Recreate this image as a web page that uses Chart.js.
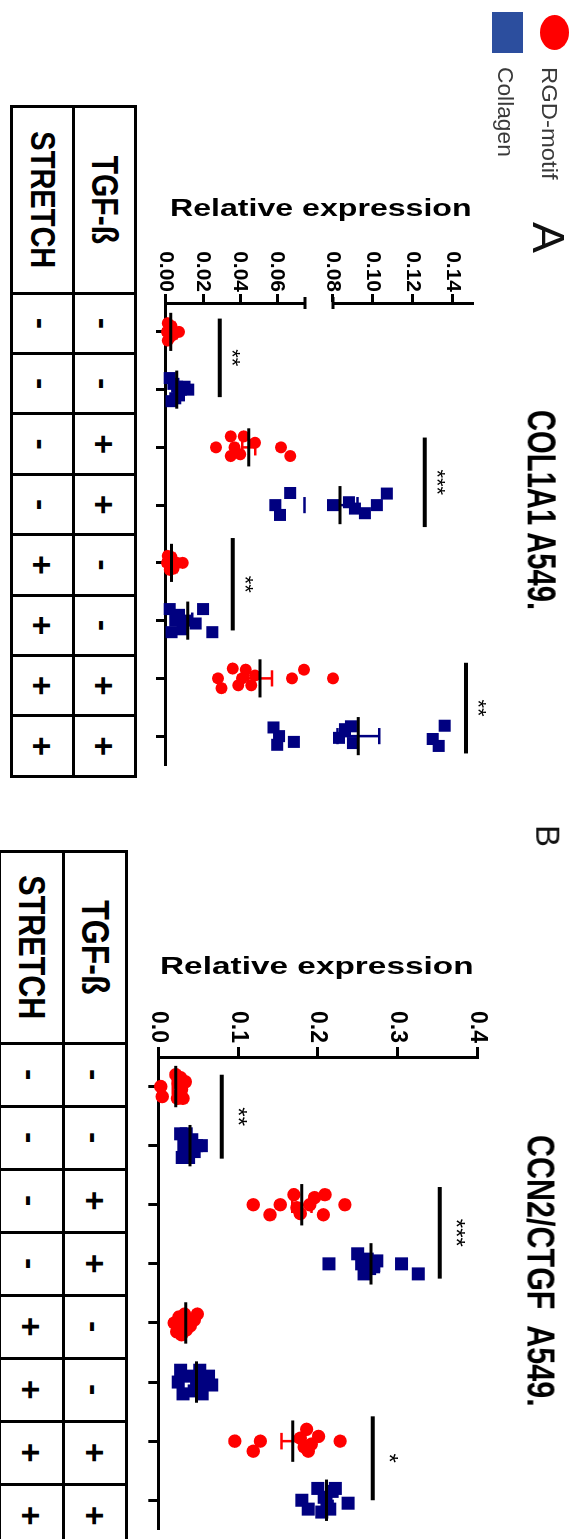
<!DOCTYPE html>
<html lang="en">
<head>
<meta charset="utf-8">
<title>COL1A1 and CCN2/CTGF relative expression in A549 cells</title>
<script src="https://cdn.jsdelivr.net/npm/chart.js@4.4.1/dist/chart.umd.min.js"></script>
<style>
  html, body { margin: 0; padding: 0; background: #fff; }
  body { position: relative; width: 580px; height: 1539px; overflow: hidden;
         font-family: "Liberation Sans", Arial, Helvetica, sans-serif; color: #000; }
  /* the figure is laid out landscape and turned a quarter turn clockwise */
  #fig { position: absolute; left: 0; top: 0; width: 1539px; height: 580px;
         transform-origin: 0 0; transform: translate(580px, 0) rotate(90deg); }
  #fig canvas { position: absolute; top: 0; }
  .txt { position: absolute; white-space: pre; line-height: 1; }
  .mark { position: absolute; }
  table.cond { position: absolute; border-collapse: collapse; table-layout: fixed; }
  table.cond td { border: 3px solid #000; padding: 0; text-align: center; vertical-align: middle;
                  font-weight: bold; line-height: 1; overflow: hidden; white-space: nowrap; }
  table.cond td span { display: inline-block; }
</style>
</head>
<body>
<div id="fig">
  <canvas id="chartA" width="800" height="440" style="left:0"></canvas>
  <canvas id="chartB" width="739" height="445" style="left:800px"></canvas>
</div>
<script>
// ---- conditions (one column per group) ----
const tgfBeta = ['-', '-', '+', '+', '-', '-', '+', '+'];
const stretch = ['-', '-', '-', '-', '+', '+', '+', '+'];
const seriesNames = ['RGD-motif', 'Collagen'];
const coating = ['RGD-motif', 'Collagen', 'RGD-motif', 'Collagen', 'RGD-motif', 'Collagen', 'RGD-motif', 'Collagen'];

// ---- COL1A1, A549 ----
const col1a1Points = [
  [0.0005, 0.001, 0.001, 0.002, 0.002, 0.003, 0.004, 0.007],
  [0.002, 0.003, 0.004, 0.005, 0.006, 0.007, 0.008, 0.010, 0.012],
  [0.027, 0.035, 0.035, 0.037, 0.040, 0.042, 0.048, 0.062, 0.067],
  [0.059, 0.0615, 0.067, 0.080, 0.088, 0.091, 0.096, 0.102, 0.107],
  [0.0005, 0.001, 0.002, 0.003, 0.003, 0.004, 0.006, 0.009],
  [0.002, 0.003, 0.005, 0.007, 0.009, 0.011, 0.016, 0.020, 0.025],
  [0.028, 0.030, 0.036, 0.039, 0.041, 0.043, 0.046, 0.048, 0.068, 0.0745, 0.080],
  [0.058, 0.060, 0.061, 0.069, 0.083, 0.086, 0.089, 0.090, 0.130, 0.133, 0.136]
];
const col1a1Spread = [
  [0, -0.15, 0.15, -0.05, 0.1, -0.1, 0.05, 0],
  [-0.2, 0.2, -0.1, 0.15, -0.05, 0.1, 0, -0.05, 0],
  [0, 0.15, -0.19, 0, 0.12, -0.19, -0.08, 0, 0.15],
  [0, 0.17, -0.21, 0, -0.05, 0.06, 0.14, 0, -0.2],
  [0, -0.12, 0.12, 0, -0.1, 0.1, 0, 0],
  [-0.2, 0.2, 0, -0.1, 0.15, 0, 0.05, -0.2, 0.2],
  [0, 0.17, -0.17, 0.12, 0, -0.15, 0.12, -0.05, 0, -0.15, 0],
  [-0.15, 0.15, 0, 0.1, 0.03, -0.12, -0.17, 0.12, 0.05, 0.17, -0.18]
];
const col1a1Mean = [0.0025, 0.0058, 0.0447, 0.0835, 0.003, 0.0117, 0.0507, 0.0927];
const col1a1Sem = [0.001, 0.0012, 0.0035, 0.0088, 0.001, 0.0025, 0.0065, 0.0105];
// [from group, to group, level, label]
const col1a1Sig = [[-0.23, 1.13, 0.029, '**'], [1.83, 3.38, 0.126, '***'], [3.57, 5.17, 0.036, '**'], [5.73, 7.30, 0.1467, '**']];
const col1a1Break = [0.075, 0.08];
const col1a1TicksLow = [0, 0.02, 0.04, 0.06];
const col1a1TicksHigh = [0.08, 0.10, 0.12, 0.14];

// ---- CCN2/CTGF, A549 ----
const ctgfPoints = [
  [0.003, 0.005, 0.022, 0.024, 0.025, 0.027, 0.028, 0.029, 0.031, 0.034],
  [0.028, 0.030, 0.032, 0.035, 0.038, 0.040, 0.042, 0.045, 0.048, 0.054],
  [0.119, 0.140, 0.153, 0.170, 0.174, 0.178, 0.190, 0.196, 0.207, 0.209, 0.234],
  [0.214, 0.250, 0.255, 0.258, 0.262, 0.265, 0.270, 0.274, 0.305, 0.326],
  [0.020, 0.023, 0.026, 0.029, 0.031, 0.033, 0.035, 0.037, 0.040, 0.045, 0.049],
  [0.025, 0.028, 0.031, 0.040, 0.045, 0.048, 0.052, 0.055, 0.058, 0.063, 0.067],
  [0.096, 0.119, 0.128, 0.178, 0.183, 0.186, 0.188, 0.192, 0.201, 0.228],
  [0.180, 0.188, 0.200, 0.205, 0.208, 0.212, 0.215, 0.218, 0.222, 0.238]
];
const ctgfSpread = [
  [0, 0.17, -0.2, 0.2, -0.05, 0.12, -0.15, 0.05, 0.2, -0.08],
  [-0.2, 0.2, 0, -0.2, 0.2, 0, -0.1, 0.1, 0, 0],
  [0, 0.17, 0, -0.17, 0.05, 0.15, 0, -0.12, 0.17, -0.17, 0],
  [0, -0.17, 0, 0.17, -0.08, 0.08, 0.05, -0.05, 0, 0.17],
  [0, 0.15, -0.1, 0.2, 0, -0.15, 0.12, 0, 0.05, -0.05, -0.15],
  [0, -0.2, 0.2, -0.1, 0.15, 0, -0.2, 0.2, 0, -0.1, 0.05],
  [0, 0.17, 0, -0.05, 0.1, -0.2, 0.17, 0.05, -0.08, 0],
  [0, 0.15, -0.2, 0.2, -0.05, 0.1, 0.15, -0.15, -0.2, 0.05]
];
const ctgfMean = [0.022, 0.0397, 0.180, 0.2667, 0.0343, 0.048, 0.1685, 0.211];
const ctgfSem = [0.004, 0.003, 0.012, 0.010, 0.003, 0.004, 0.014, 0.006];
const ctgfSig = [[-0.2, 1.22, 0.0795, '**'], [1.7, 3.25, 0.353, '***'], [5.58, 7.0, 0.2688, '*']];
const ctgfTicks = [0, 0.1, 0.2, 0.3, 0.4];

// ---- drawing ----
const FONT = '"Liberation Sans", Arial, Helvetica, sans-serif';
const SERIES_COLORS = ['#ff0000', '#000080'];
const SERIES_SHAPES = ['circle', 'rect'];
Chart.defaults.font.family = FONT;
Chart.defaults.color = '#000';

const fig = document.getElementById('fig');

function axisOf(v, brk) { return !brk ? 'y' : (v >= brk[1] ? 'yHigh' : 'yLow'); }

// store a straight segment on the value axis that holds it (split across the break if needed)
function addSeg(store, brk, x1, y1, x2, y2) {
  const put = (ax, a, b, c, d) => {
    (store[ax] = store[ax] || []).push({x: a, y: b}, {x: c, y: d}, {x: c, y: null});
  };
  if (!brk) { put('y', x1, y1, x2, y2); return; }
  if (y1 === y2) {
    if (y1 <= brk[0]) put('yLow', x1, y1, x2, y2);
    else if (y1 >= brk[1]) put('yHigh', x1, y1, x2, y2);
    return;
  }
  const lo = Math.min(y1, y2), hi = Math.max(y1, y2);
  if (lo < brk[0]) put('yLow', x1, lo, x2, Math.min(hi, brk[0]));
  if (hi > brk[1]) put('yHigh', x1, Math.max(lo, brk[1]), x2, hi);
}

function xAxis(height) {
  return {
    type: 'linear', position: 'bottom', min: -0.5, max: tgfBeta.length - 0.5,
    afterBuildTicks: s => { s.ticks = tgfBeta.map((_, i) => ({value: i})); },
    afterFit: s => { s.height = height; },
    ticks: {display: false, autoSkip: false},
    grid: {display: true, drawOnChartArea: false, drawTicks: true, tickLength: 10, tickWidth: 3, tickColor: '#000'},
    border: {display: true, color: '#000', width: 3}
  };
}

function yAxis(o) {
  const cfg = {
    type: 'linear', position: 'left', min: o.min, max: o.max, weight: o.weight || 0,
    afterBuildTicks: s => { s.ticks = o.ticks.map(v => ({value: v})); },
    afterFit: s => { s.width = o.width; },
    ticks: {display: true, autoSkip: false, color: '#000', padding: o.pad,
            font: {family: FONT, size: o.size, weight: 'bold'},
            callback: v => Number(v).toFixed(o.digits)},
    grid: {display: true, drawOnChartArea: false, drawTicks: true, tickLength: o.tick, tickWidth: 3, tickColor: '#000'},
    border: {display: true, color: '#000', width: 3}
  };
  if (o.stack) { cfg.stack = o.stack; cfg.stackWeight = o.stackWeight; }
  return cfg;
}

function annotations(sig, brk, starSize, starGap) {
  return {
    id: 'annotations',
    afterDatasetsDraw(chart) {
      const ctx = chart.ctx;
      const xs = chart.scales.x;
      ctx.save();
      if (brk) {
        // end caps on both sides of the axis break
        const ax = chart.chartArea.left;
        ctx.strokeStyle = '#000';
        ctx.lineWidth = 3;
        [['yLow', brk[0]], ['yHigh', brk[1]]].forEach(([id, v]) => {
          const y = chart.scales[id].getPixelForValue(v);
          ctx.beginPath(); ctx.moveTo(ax - 6, y); ctx.lineTo(ax + 6, y); ctx.stroke();
        });
      }
      ctx.fillStyle = '#000';
      ctx.font = `${starSize}px ${FONT}`;
      ctx.textAlign = 'center';
      ctx.textBaseline = 'alphabetic';
      sig.forEach(([a, b, v, label]) => {
        const x = xs.getPixelForValue((a + b) / 2);
        const cy = chart.scales[axisOf(v, brk)].getPixelForValue(v) - starGap;
        const m = ctx.measureText(label);
        ctx.fillText(label, x, cy + (m.actualBoundingBoxAscent - m.actualBoundingBoxDescent) / 2);
      });
      ctx.restore();
    }
  };
}

function buildPanel(canvasId, p) {
  const meanStore = {}, sigStore = {};
  const errStore = [{}, {}], ptStore = [{}, {}];
  p.points.forEach((vals, g) => {
    const s = seriesNames.indexOf(coating[g]);
    vals.forEach((v, k) => {
      const ax = axisOf(v, p.brk);
      (ptStore[s][ax] = ptStore[s][ax] || []).push({x: g + p.spread[g][k], y: v});
    });
    const m = p.mean[g], e = p.sem[g];
    addSeg(meanStore, p.brk, g - p.meanHalf, m, g + p.meanHalf, m);
    addSeg(errStore[s], p.brk, g, m - e, g, m + e);
    addSeg(errStore[s], p.brk, g - p.capHalf, m - e, g + p.capHalf, m - e);
    addSeg(errStore[s], p.brk, g - p.capHalf, m + e, g + p.capHalf, m + e);
  });
  p.sig.forEach(([a, b, v]) => addSeg(sigStore, p.brk, a, v, b, v));

  const line = (data, ax, color, w) => ({
    type: 'line', data, yAxisID: ax, xAxisID: 'x', borderColor: color, backgroundColor: color,
    borderWidth: w, pointRadius: 0, pointHoverRadius: 0, fill: false, tension: 0,
    spanGaps: false, clip: false, borderCapStyle: 'butt'
  });
  const datasets = [];
  for (const ax in meanStore) datasets.push(line(meanStore[ax], ax, '#000', 3));
  SERIES_COLORS.forEach((c, s) => { for (const ax in errStore[s]) datasets.push(line(errStore[s][ax], ax, c, 2.5)); });
  for (const ax in sigStore) datasets.push(line(sigStore[ax], ax, '#000', 4));
  SERIES_COLORS.forEach((c, s) => {
    for (const ax in ptStore[s]) {
      datasets.push({
        type: 'scatter', label: seriesNames[s], data: ptStore[s][ax], yAxisID: ax, xAxisID: 'x',
        pointStyle: SERIES_SHAPES[s], pointRadius: p.radius[s], pointHoverRadius: p.radius[s],
        backgroundColor: c, borderColor: c, borderWidth: 0, showLine: false, clip: false
      });
    }
  });

  return new Chart(document.getElementById(canvasId), {
    type: 'scatter',
    data: {datasets},
    options: {
      responsive: false, animation: false, devicePixelRatio: 1, events: [],
      layout: {padding: p.padding},
      plugins: {legend: {display: false}, tooltip: {enabled: false}, title: {display: false}},
      scales: p.scales
    },
    plugins: [annotations(p.sig, p.brk, p.starSize, p.starGap)]
  });
}

// COL1A1 panel: value axis broken between 0.075 and 0.08
buildPanel('chartA', {
  points: col1a1Points, spread: col1a1Spread, mean: col1a1Mean, sem: col1a1Sem, sig: col1a1Sig,
  brk: col1a1Break, radius: [6, 8.5], meanHalf: 0.33, capHalf: 0.14, starSize: 22, starGap: 16,
  padding: {top: 107.4, right: 35, bottom: 0, left: 0},
  scales: {
    x: xAxis(26),
    yHigh: yAxis({min: 0.08, max: 0.15, ticks: col1a1TicksHigh, stack: 'col1a1', stackWeight: 139.6, weight: 3,
                  width: 303, digits: 2, size: 21, tick: 9, pad: 2}),
    yGap: {type: 'linear', position: 'left', stack: 'col1a1', stackWeight: 28, weight: 2, min: 0, max: 1,
           afterFit: s => { s.width = 303; },
           ticks: {display: false}, grid: {display: false}, border: {display: false}},
    yLow: yAxis({min: 0, max: col1a1Break[0], ticks: col1a1TicksLow, stack: 'col1a1', stackWeight: 139, weight: 1,
                 width: 303, digits: 2, size: 21, tick: 9, pad: 2})
  }
});

// CCN2/CTGF panel
buildPanel('chartB', {
  points: ctgfPoints, spread: ctgfSpread, mean: ctgfMean, sem: ctgfSem, sig: ctgfSig,
  brk: null, radius: [6.7, 9.2], meanHalf: 0.35, capHalf: 0.14, starSize: 24, starGap: 21,
  padding: {top: 102.7, right: 4, bottom: 0, left: 0},
  scales: {
    x: xAxis(23.3),
    y: yAxis({min: 0, max: 0.4, ticks: ctgfTicks, width: 257, digits: 1, size: 23, tick: 10, pad: 4})
  }
});

// ---- text labels ----
function placeText(parent, text, o) {
  const d = document.createElement('div');
  d.className = 'txt';
  d.textContent = text;
  d.style.fontSize = o.size + 'px';
  d.style.fontWeight = o.bold ? 'bold' : 'normal';
  d.style.color = o.color || '#000';
  d.style.left = o.left + 'px';
  d.style.top = (o.cy - o.size / 2) + 'px';
  parent.appendChild(d);
  const sx = o.width ? o.width / d.offsetWidth : 1;
  const sy = o.cap ? o.cap / (0.716 * o.size) : 1;
  d.style.transformOrigin = '0 50%';
  d.style.transform = `scale(${sx}, ${sy})`;
  return d;
}

function placeMark(shape, color, left, top, w, h) {
  const d = document.createElement('div');
  d.className = 'mark';
  Object.assign(d.style, {left: left + 'px', top: top + 'px', width: w + 'px', height: h + 'px', background: color,
                          borderRadius: shape === 'circle' ? '50%' : '0'});
  fig.appendChild(d);
}

// legend
placeMark(SERIES_SHAPES[0], '#ff0000', 15, 11, 35, 29);
placeMark(SERIES_SHAPES[1], '#2c4e9e', 12, 57, 41, 31);
placeText(fig, seriesNames[0], {left: 67, cy: 30, size: 23, width: 113, cap: 16.3, color: '#3a3a3a'});
placeText(fig, seriesNames[1], {left: 67, cy: 74.5, size: 23, width: 90, cap: 16.3, color: '#3a3a3a'});

// panel letters and titles
placeText(fig, 'A', {left: 222, cy: 31, size: 45, width: 31, cap: 32, color: '#111'});
placeText(fig, 'B', {left: 825, cy: 32, size: 33, width: 22, cap: 24, color: '#111'});
placeText(fig, 'COL1A1 A549.', {left: 410, cy: 38.2, size: 40, bold: true, width: 200, cap: 29.5});
placeText(fig, 'CCN2/CTGF  A549.', {left: 1135, cy: 38.8, size: 38, bold: true, width: 272, cap: 27.8});

// value-axis titles (they read across the page once the figure is turned)
const yTitle = 'Relative expression';
placeText(document.body, yTitle, {left: 170, cy: 207.7, size: 24, bold: true, width: 301, cap: 17});
placeText(document.body, yTitle, {left: 160, cy: 966, size: 24, bold: true, width: 313, cap: 17.5});

// condition tables under each panel
function buildTable(left, top, headW, colW, rowH, headSize, cellSize) {
  const t = document.createElement('table');
  t.className = 'cond';
  t.style.left = left + 'px';
  t.style.top = top + 'px';
  t.style.width = (headW + colW * tgfBeta.length) + 'px';
  const cg = document.createElement('colgroup');
  [headW].concat(tgfBeta.map(() => colW)).forEach(w => {
    const c = document.createElement('col'); c.style.width = w + 'px'; cg.appendChild(c);
  });
  t.appendChild(cg);
  [['TGF-ß', tgfBeta], ['STRETCH', stretch]].forEach(([name, vals], r) => {
    const tr = t.insertRow();
    tr.style.height = rowH[r] + 'px';
    const th = tr.insertCell();
    const sp = document.createElement('span');
    sp.textContent = name;
    sp.style.fontSize = headSize[r] + 'px';
    sp.style.transform = 'scaleY(1.2)';
    th.appendChild(sp);
    vals.forEach(v => {
      const td = tr.insertCell();
      td.textContent = v;
      td.style.fontSize = cellSize + 'px';
    });
  });
  fig.appendChild(t);
}
buildTable(105, 443, 186.7, 60.4, [62, 62], [30, 29], 34);
buildTable(850, 452, 191.7, 63, [63.4, 63.6], [32, 30.5], 34);
</script>
</body>
</html>
